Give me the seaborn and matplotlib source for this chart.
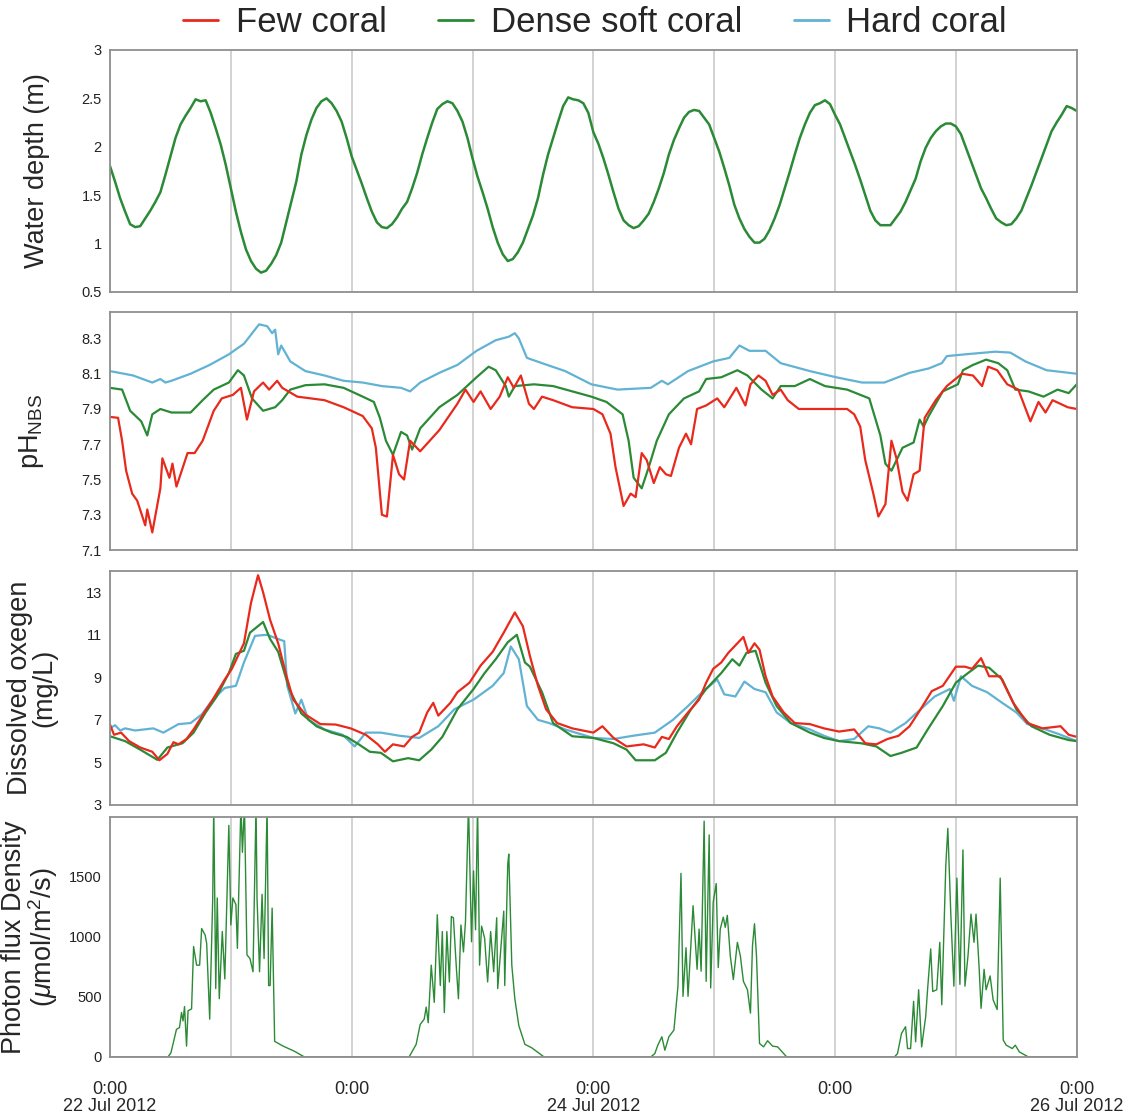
import pandas as pd
import matplotlib.pyplot as plt
import seaborn as sns
from matplotlib.lines import Line2D

sites = ["Few coral", "Dense soft coral", "Hard coral"]
site_colors = {"Few coral": "#e8291c", "Dense soft coral": "#2b8a36", "Hard coral": "#62b2d3"}

# hours since 0:00 22 Jul 2012, water depth read every 30 min
depth_hours = [i * 0.5 for i in range(193)]
depth_m = [1.80, 1.64, 1.47, 1.33, 1.20, 1.17, 1.18, 1.26, 1.34, 1.43,
           1.53, 1.71, 1.90, 2.09, 2.23, 2.32, 2.40, 2.49, 2.47, 2.48,
           2.35, 2.19, 2.02, 1.81, 1.57, 1.33, 1.12, 0.94, 0.82, 0.74,
           0.70, 0.72, 0.79, 0.88, 1.01, 1.22, 1.43, 1.64, 1.92, 2.12,
           2.28, 2.40, 2.47, 2.50, 2.45, 2.37, 2.26, 2.09, 1.90, 1.76,
           1.62, 1.47, 1.33, 1.22, 1.17, 1.16, 1.20, 1.27, 1.36, 1.43,
           1.57, 1.73, 1.92, 2.09, 2.25, 2.39, 2.44, 2.47, 2.45, 2.37,
           2.26, 2.09, 1.88, 1.69, 1.53, 1.36, 1.17, 1.01, 0.89, 0.82,
           0.84, 0.91, 1.01, 1.15, 1.29, 1.47, 1.71, 1.92, 2.09, 2.26,
           2.42, 2.51, 2.49, 2.48, 2.45, 2.35, 2.15, 2.03, 1.88, 1.71,
           1.53, 1.36, 1.24, 1.19, 1.16, 1.18, 1.24, 1.31, 1.43, 1.57,
           1.73, 1.92, 2.07, 2.19, 2.30, 2.36, 2.38, 2.37, 2.30, 2.23,
           2.09, 1.95, 1.78, 1.60, 1.40, 1.26, 1.15, 1.07, 1.01, 1.01,
           1.05, 1.14, 1.26, 1.40, 1.57, 1.74, 1.92, 2.09, 2.23, 2.35,
           2.43, 2.45, 2.48, 2.44, 2.33, 2.23, 2.09, 1.95, 1.81, 1.66,
           1.50, 1.34, 1.24, 1.19, 1.19, 1.19, 1.26, 1.33, 1.43, 1.55,
           1.67, 1.85, 1.99, 2.09, 2.16, 2.21, 2.24, 2.24, 2.21, 2.13,
           1.99, 1.85, 1.71, 1.57, 1.47, 1.36, 1.26, 1.22, 1.19, 1.20,
           1.26, 1.34, 1.47, 1.60, 1.74, 1.88, 2.02, 2.16, 2.25, 2.33,
           2.42, 2.40, 2.37]

# pH
ph_few_t = [0, 0.8, 1.2, 1.6, 2.2, 2.7, 3.5, 3.7, 4.2, 5.0,
            5.2, 5.9, 6.2, 6.6, 7.7, 8.4, 9.2, 10.3, 11.1, 12.2,
            13.0, 13.6, 14.3, 15.2, 15.8, 16.6, 17.1, 18.6, 21.3, 23.2,
            25.1, 26.0, 26.4, 27.0, 27.5, 28.1, 28.7, 29.2, 29.8, 30.8,
            32.7, 34.5, 35.3, 36.1, 36.8, 37.8, 38.7, 39.5, 40.1, 40.8,
            41.6, 42.1, 42.9, 44.0, 45.9, 48.0, 48.9, 49.7, 50.2, 51.0,
            51.7, 52.2, 52.8, 53.3, 54.0, 54.6, 55.2, 55.7, 56.5, 57.2,
            57.7, 58.3, 59.2, 60.3, 61.0, 62.2, 63.1, 63.6, 64.4, 65.1,
            65.8, 66.6, 67.3, 68.4, 70.2, 73.2, 73.9, 74.5, 75.0, 75.8,
            76.3, 77.0, 77.6, 78.1, 78.7, 79.2, 79.8, 80.4, 80.9, 82.0,
            83.1, 84.6, 85.7, 86.6, 87.2, 88.1, 89.1, 90.2, 91.4, 92.2,
            92.9, 93.6, 95.1, 96.0]
ph_few = [7.855, 7.85, 7.72, 7.55, 7.42, 7.38, 7.24, 7.33, 7.20, 7.45,
          7.62, 7.51, 7.59, 7.46, 7.65, 7.65, 7.72, 7.89, 7.96, 7.98,
          8.02, 7.84, 8.00, 8.05, 8.01, 8.06, 8.02, 7.97, 7.95, 7.91,
          7.86, 7.79, 7.68, 7.30, 7.29, 7.64, 7.53, 7.50, 7.72, 7.66,
          7.78, 7.93, 8.01, 7.94, 8.00, 7.90, 7.97, 8.08, 8.02, 8.09,
          7.93, 7.90, 7.97, 7.95, 7.91, 7.90, 7.87, 7.76, 7.57, 7.35,
          7.42, 7.40, 7.65, 7.61, 7.48, 7.57, 7.53, 7.52, 7.68, 7.76,
          7.70, 7.90, 7.92, 7.96, 7.91, 8.02, 7.92, 8.04, 8.09, 8.06,
          7.98, 8.01, 7.95, 7.90, 7.90, 7.90, 7.87, 7.80, 7.61, 7.42,
          7.29, 7.36, 7.72, 7.62, 7.43, 7.38, 7.53, 7.55, 7.85, 7.95,
          8.03, 8.10, 8.09, 8.03, 8.14, 8.12, 8.04, 8.01, 7.83, 7.94,
          7.88, 7.95, 7.91, 7.90]

ph_dense_t = [0, 1.2, 2.0, 3.1, 3.7, 4.2, 5.0, 6.1, 8.0, 9.2,
              10.3, 11.8, 12.7, 13.3, 14.1, 15.2, 16.4, 17.1, 17.9, 19.4,
              21.3, 23.2, 25.1, 26.2, 26.8, 27.4, 28.1, 28.9, 29.5, 30.0,
              30.8, 32.7, 34.5, 36.4, 37.6, 38.3, 39.3, 39.6, 40.2, 42.1,
              44.0, 45.9, 47.8, 49.3, 50.9, 51.5, 52.0, 52.8, 53.5, 54.3,
              55.5, 57.0, 58.5, 59.2, 60.7, 62.3, 63.3, 64.7, 65.8, 66.6,
              68.0, 69.5, 71.0, 73.2, 75.4, 76.5, 77.0, 77.6, 78.7, 79.8,
              80.4, 80.8, 81.3, 82.7, 84.2, 84.7, 85.7, 87.0, 88.2, 89.1,
              89.9, 91.2, 92.7, 94.1, 95.2, 96.0]
ph_dense = [8.02, 8.01, 7.89, 7.83, 7.75, 7.87, 7.90, 7.88, 7.88, 7.95,
            8.01, 8.05, 8.12, 8.09, 7.96, 7.89, 7.91, 7.95, 8.01, 8.035,
            8.04, 8.02, 7.97, 7.94, 7.85, 7.72, 7.64, 7.77, 7.75, 7.67,
            7.79, 7.91, 7.98, 8.08, 8.14, 8.12, 8.03, 7.97, 8.03, 8.04,
            8.03, 8.00, 7.97, 7.94, 7.87, 7.72, 7.51, 7.45, 7.57, 7.72,
            7.87, 7.96, 8.00, 8.07, 8.08, 8.12, 8.09, 8.01, 7.96, 8.03,
            8.03, 8.07, 8.03, 8.01, 7.96, 7.75, 7.59, 7.55, 7.68, 7.71,
            7.84, 7.80, 7.86, 8.00, 8.04, 8.12, 8.15, 8.18, 8.16, 8.12,
            8.01, 8.00, 7.97, 8.01, 7.99, 8.04]

ph_hard_t = [0, 2.3, 4.2, 5.0, 5.5, 6.1, 8.0, 9.9, 11.8, 13.3,
             14.8, 15.6, 16.1, 16.4, 16.7, 17.0, 17.9, 19.4, 21.3, 23.2,
             25.1, 27.0, 28.9, 29.8, 30.8, 32.7, 34.5, 36.4, 38.3, 39.6,
             40.2, 40.6, 41.4, 42.9, 45.2, 47.8, 50.4, 53.7, 54.8, 55.4,
             57.4, 59.9, 61.5, 62.5, 63.5, 65.1, 66.6, 69.5, 72.1, 74.7,
             76.9, 79.4, 81.3, 82.6, 83.1, 84.9, 87.9, 89.4, 90.9, 93.0,
             96.0]
ph_hard = [8.115, 8.09, 8.05, 8.07, 8.05, 8.06, 8.10, 8.15, 8.21, 8.27,
           8.38, 8.37, 8.33, 8.35, 8.21, 8.26, 8.17, 8.115, 8.09, 8.06,
           8.05, 8.03, 8.02, 8.00, 8.05, 8.105, 8.15, 8.23, 8.29, 8.31,
           8.33, 8.30, 8.19, 8.16, 8.115, 8.04, 8.01, 8.02, 8.06, 8.04,
           8.115, 8.17, 8.19, 8.26, 8.23, 8.23, 8.16, 8.115, 8.08, 8.05,
           8.05, 8.105, 8.13, 8.16, 8.20, 8.21, 8.225, 8.22, 8.17, 8.12,
           8.10]

# dissolved oxygen (mg/L)
do_few_t = [0, 0.4, 1.1, 1.9, 3.0, 4.2, 4.9, 5.7, 6.3, 6.8,
            7.6, 8.3, 9.3, 10.2, 11.4, 12.1, 13.3, 14.0, 14.7, 15.2,
            15.9, 16.7, 17.5, 18.2, 19.4, 20.9, 22.4, 23.9, 25.4, 26.6,
            27.3, 28.1, 29.2, 30.0, 30.7, 31.5, 32.1, 32.6, 33.8, 34.5,
            35.7, 36.8, 38.0, 39.1, 40.2, 41.0, 41.7, 42.5, 43.3, 44.4,
            45.9, 48.0, 48.9, 50.0, 51.3, 53.0, 54.1, 54.8, 55.5, 56.3,
            57.4, 58.5, 59.2, 59.9, 60.7, 61.4, 62.1, 62.9, 63.4, 64.0,
            64.5, 65.1, 65.8, 66.9, 68.0, 69.5, 70.9, 72.4, 73.9, 75.0,
            76.1, 77.2, 78.3, 79.4, 80.5, 81.6, 82.7, 84.0, 84.9, 85.6,
            86.5, 87.3, 88.4, 89.7, 91.1, 92.6, 94.4, 95.2, 96.0]
do_few = [6.78, 6.3, 6.4, 6.0, 5.7, 5.5, 5.1, 5.4, 5.95, 5.85,
          6.1, 6.55, 7.3, 7.95, 8.9, 9.4, 10.6, 12.5, 13.8, 13.0,
          11.7, 10.6, 9.1, 7.95, 7.25, 6.8, 6.78, 6.6, 6.3, 5.85,
          5.5, 5.85, 5.75, 6.2, 6.4, 7.35, 7.8, 7.2, 7.8, 8.3,
          8.75, 9.55, 10.2, 11.1, 12.05, 11.4, 10.0, 8.6, 7.5, 6.85,
          6.6, 6.4, 6.7, 6.15, 5.75, 5.85, 5.7, 6.2, 6.1, 6.7,
          7.35, 7.95, 8.75, 9.4, 9.7, 10.15, 10.5, 10.9, 10.15, 10.6,
          10.3, 9.05, 8.1, 7.35, 6.85, 6.8, 6.6, 6.45, 6.55, 5.9,
          5.85, 6.1, 6.25, 6.7, 7.5, 8.35, 8.6, 9.5, 9.5, 9.4,
          9.9, 9.05, 9.05, 7.8, 6.85, 6.6, 6.7, 6.3, 6.2]

do_dense_t = [0, 1.5, 3.0, 4.7, 5.7, 7.2, 8.3, 9.5, 10.6, 11.8,
              12.5, 13.3, 13.9, 15.2, 15.9, 16.7, 17.8, 19.0, 20.5, 22.0,
              23.5, 24.7, 25.8, 26.9, 28.1, 29.6, 30.7, 31.9, 33.0, 34.5,
              36.1, 37.2, 38.3, 39.5, 40.4, 41.2, 41.7, 42.9, 44.0, 45.9,
              48.0, 50.0, 51.3, 52.2, 54.1, 55.2, 56.3, 57.7, 59.2, 60.7,
              61.8, 62.5, 63.2, 64.1, 65.1, 66.2, 67.6, 69.5, 70.9, 72.4,
              74.6, 76.1, 77.5, 78.6, 80.1, 81.2, 82.7, 84.0, 85.2, 86.2,
              87.3, 88.6, 90.0, 91.5, 93.3, 95.2, 96.0]
do_dense = [6.23, 6.0, 5.6, 5.12, 5.7, 5.9, 6.4, 7.35, 8.1, 9.2,
            10.1, 10.25, 11.1, 11.6, 10.8, 10.2, 8.45, 7.3, 6.7, 6.4,
            6.2, 5.85, 5.5, 5.45, 5.05, 5.2, 5.1, 5.6, 6.2, 7.5,
            8.45, 9.2, 9.85, 10.65, 11.0, 9.7, 9.5, 8.3, 6.85, 6.23,
            6.15, 5.9, 5.6, 5.1, 5.1, 5.45, 6.4, 7.5, 8.45, 9.2,
            9.85, 9.55, 10.15, 10.25, 8.75, 7.65, 6.85, 6.4, 6.15, 6.0,
            5.9, 5.75, 5.3, 5.45, 5.7, 6.55, 7.65, 8.75, 9.2, 9.55,
            9.45, 8.9, 7.5, 6.7, 6.3, 6.05, 6.0]

do_hard_t = [0, 0.5, 1.0, 1.5, 2.5, 3.4, 4.3, 5.3, 6.8, 8.0,
             9.1, 10.2, 11.4, 12.5, 13.3, 14.4, 15.6, 16.7, 17.3, 17.6,
             18.4, 19.0, 19.7, 21.3, 23.1, 24.3, 25.4, 26.9, 28.8, 30.7,
             32.6, 34.2, 36.1, 38.0, 39.1, 39.8, 40.6, 41.4, 42.5, 43.6,
             45.2, 48.0, 50.0, 51.9, 54.1, 55.9, 57.4, 58.8, 60.3, 61.0,
             62.1, 63.0, 64.0, 65.1, 66.2, 67.6, 69.5, 70.9, 72.4, 73.9,
             75.3, 76.4, 77.5, 79.0, 80.5, 81.9, 83.4, 83.8, 84.5, 85.6,
             87.1, 88.6, 90.0, 91.1, 92.9, 94.4, 96.0]
do_hard = [6.6, 6.75, 6.5, 6.6, 6.5, 6.55, 6.6, 6.4, 6.8, 6.85,
           7.25, 7.95, 8.5, 8.6, 9.7, 10.95, 11.0, 10.8, 10.7, 8.6,
           7.3, 7.95, 7.0, 6.55, 6.3, 5.75, 6.4, 6.4, 6.25, 6.15,
           6.7, 7.5, 7.95, 8.6, 9.2, 10.45, 9.85, 7.65, 7.0, 6.85,
           6.55, 6.15, 6.1, 6.25, 6.4, 7.0, 7.65, 8.3, 8.9, 8.2,
           8.1, 8.8, 8.45, 8.3, 7.35, 6.85, 6.55, 6.25, 6.0, 6.1,
           6.7, 6.6, 6.4, 6.85, 7.5, 8.1, 8.45, 7.9, 9.05, 8.6,
           8.3, 7.8, 7.35, 6.8, 6.55, 6.3, 6.0]

# photon flux density (umol/m2/s)
par_t = [0, 5.75, 6.05, 6.6, 6.9, 7.1, 7.25, 7.4, 7.6, 7.75,
         8.1, 8.3, 8.6, 8.9, 9.1, 9.45, 9.6, 9.9, 10.2, 10.3,
         10.5, 10.65, 10.85, 11.15, 11.4, 11.8, 12.0, 12.2, 12.5, 12.65,
         13.0, 13.15, 13.35, 13.6, 13.9, 14.2, 14.5, 14.6, 14.85, 15.1,
         15.3, 15.6, 15.75, 15.9, 16.1, 16.35, 17.2, 18.3, 19.3, 29.7,
         30.4, 30.8, 31.2, 31.4, 31.6, 31.9, 32.2, 32.5, 32.8, 33.0,
         33.2, 33.45, 33.7, 33.9, 34.1, 34.4, 34.6, 34.85, 35.1, 35.3,
         35.6, 35.9, 36.1, 36.3, 36.5, 36.7, 36.9, 37.2, 37.5, 37.8,
         38.1, 38.4, 38.5, 39.1, 39.2, 39.5, 39.6, 39.9, 40.2, 40.6,
         41.2, 41.9, 43.1, 53.7, 54.1, 54.4, 54.8, 55.1, 55.5, 56.0,
         56.4, 56.7, 56.9, 57.2, 57.4, 57.9, 58.3, 58.5, 58.7, 59.0,
         59.2, 59.5, 59.65, 59.9, 60.2, 60.4, 60.6, 60.9, 61.1, 61.3,
         61.6, 61.9, 62.3, 62.6, 62.9, 63.3, 63.6, 63.8, 64.0, 64.2,
         64.5, 64.9, 65.3, 65.8, 66.3, 67.2, 77.9, 78.2, 78.6, 79.0,
         79.2, 79.5, 79.8, 80.0, 80.3, 80.6, 81.0, 81.2, 81.5, 81.7,
         82.1, 82.4, 82.6, 83.0, 83.2, 83.5, 83.8, 84.1, 84.4, 84.7,
         84.9, 85.2, 85.5, 85.8, 86.0, 86.3, 86.5, 86.8, 87.0, 87.4,
         87.7, 88.1, 88.4, 88.7, 89.0, 89.6, 89.9, 90.3, 91.2, 96.0]
par = [0, 0, 34, 230, 245, 370, 300, 420, 90, 385,
       400, 920, 765, 765, 1070, 1015, 945, 315, 1325, 2100,
       570, 1325, 485, 1045, 650, 1930, 1100, 1325, 1270, 905,
       2100, 1705, 2100, 850, 820, 710, 2100, 1325, 710, 1355,
       820, 2100, 595, 595, 1240, 130, 90, 48, 0, 0,
       105, 270, 315, 415, 285, 765, 455, 1185, 595, 1045,
       370, 1045, 625, 1170, 1160, 735, 485, 1100, 875, 1130,
       2100, 960, 1550, 1060, 2100, 765, 1090, 990, 625, 1045,
       710, 1160, 570, 1215, 595, 1610, 1690, 765, 485, 260,
       105, 75, 0, 0, 28, 98, 168, 56, 168, 224,
       590, 1530, 505, 910, 505, 1260, 730, 1065, 715, 1965,
       630, 1850, 575, 1290, 1445, 745, 1065, 1165, 1080, 1180,
       840, 645, 955, 840, 630, 560, 365, 925, 1110, 840,
       112, 84, 135, 90, 84, 0, 0, 28, 196, 252,
       70, 70, 463, 126, 560, 84, 336, 575, 900, 545,
       560, 955, 435, 1600, 1905, 1180, 590, 1490, 605, 1725,
       590, 840, 1190, 955, 1190, 755, 405, 730, 560, 675,
       475, 395, 1490, 140, 98, 70, 98, 42, 0, 0]

x_ticks = list(range(0, 97, 12))
x_tick_labels = ["0:00\n22 Jul 2012", "", "0:00", "", "0:00\n24 Jul 2012",
                 "", "0:00", "", "0:00\n26 Jul 2012"]


def long_frame(parts):
    frames = []
    for site, hours, values in parts:
        frames.append(pd.DataFrame({"hours": hours, "value": values, "site": site}))
    return pd.concat(frames, ignore_index=True)


depth_df = long_frame([("Dense soft coral", depth_hours, depth_m)])
ph_df = long_frame([("Hard coral", ph_hard_t, ph_hard),
                    ("Dense soft coral", ph_dense_t, ph_dense),
                    ("Few coral", ph_few_t, ph_few)])
do_df = long_frame([("Hard coral", do_hard_t, do_hard),
                    ("Dense soft coral", do_dense_t, do_dense),
                    ("Few coral", do_few_t, do_few)])
par_df = long_frame([("Dense soft coral", par_t, par)])

sns.set_style("white")
plt.rcParams["font.family"] = ["Liberation Sans", "DejaVu Sans"]
plt.rcParams["mathtext.fontset"] = "custom"
plt.rcParams["mathtext.rm"] = "Liberation Sans"
plt.rcParams["mathtext.it"] = "Liberation Sans:italic"

fig = plt.figure(figsize=(11.4, 11.2), dpi=100)
left, width = 0.0965, 0.848
ax1 = fig.add_axes([left, 0.7393, width, 0.2161])
ax2 = fig.add_axes([left, 0.5089, width, 0.2125])
ax3 = fig.add_axes([left, 0.2813, width, 0.2089])
ax4 = fig.add_axes([left, 0.0563, width, 0.2143])

hue_order = ["Hard coral", "Dense soft coral", "Few coral"]
sns.lineplot(data=depth_df, x="hours", y="value", hue="site", palette=site_colors,
             estimator=None, sort=False, linewidth=1.8, legend=False, ax=ax1)
sns.lineplot(data=ph_df, x="hours", y="value", hue="site", hue_order=hue_order,
             palette=site_colors, estimator=None, sort=False, linewidth=1.6,
             legend=False, ax=ax2)
sns.lineplot(data=do_df, x="hours", y="value", hue="site", hue_order=hue_order,
             palette=site_colors, estimator=None, sort=False, linewidth=1.6,
             legend=False, ax=ax3)
sns.lineplot(data=par_df, x="hours", y="value", hue="site", palette=site_colors,
             estimator=None, sort=False, linewidth=1.0, legend=False, ax=ax4)

ax1.set_ylim(0.5, 3)
ax1.set_yticks([0.5, 1, 1.5, 2, 2.5, 3])
ax1.set_yticklabels(["0.5", "1", "1.5", "2", "2.5", "3"])
ax1.set_ylabel("Water depth (m)")

ax2.set_ylim(7.1, 8.45)
ax2.set_yticks([7.1, 7.3, 7.5, 7.7, 7.9, 8.1, 8.3])
ax2.set_yticklabels(["7.1", "7.3", "7.5", "7.7", "7.9", "8.1", "8.3"])
ax2.set_ylabel(r"pH$_{\mathrm{NBS}}$")

ax3.set_ylim(3, 14)
ax3.set_yticks([3, 5, 7, 9, 11, 13])
ax3.set_ylabel("Dissolved oxegen\n(mg/L)", linespacing=0.95)

ax4.set_ylim(0, 2000)
ax4.set_yticks([0, 500, 1000, 1500])
ax4.set_ylabel("Photon flux Density\n" + r"($\mu$mol/m$^2$/s)", linespacing=0.95)

for ax in (ax1, ax2, ax3, ax4):
    ax.set_xlim(0, 96)
    ax.set_xticks(x_ticks)
    ax.set_xlabel("")
    ax.grid(axis="x", color="#c6c6c6", linewidth=1.1)
    ax.set_axisbelow(True)
    for sp in ax.spines.values():
        sp.set_color("#8f8f8f")
        sp.set_linewidth(1.3)
    ax.tick_params(axis="y", length=0, pad=6, labelsize=10.5, labelcolor="#222222")
    ax.tick_params(axis="x", length=0)
    ax.yaxis.label.set_fontsize(19.5)
    if ax is ax4:
        ax.set_xticklabels(x_tick_labels, fontsize=13, linespacing=1.0)
        ax.tick_params(axis="x", pad=17)
    else:
        ax.set_xticklabels([])

ax1.yaxis.set_label_coords(-0.062, 0.5)
ax2.yaxis.set_label_coords(-0.066, 0.5)
ax3.yaxis.set_label_coords(-0.054, 0.5)
ax4.yaxis.set_label_coords(-0.052, 0.5)

handles = [Line2D([], [], color=site_colors[s], linewidth=2) for s in sites]
fig.legend(handles, sites, loc="center", bbox_to_anchor=(0.522, 0.980), ncol=3,
           frameon=False, fontsize=25, handlelength=1.0, handletextpad=0.5,
           columnspacing=1.5)

fig.savefig("out.png", dpi=100)
